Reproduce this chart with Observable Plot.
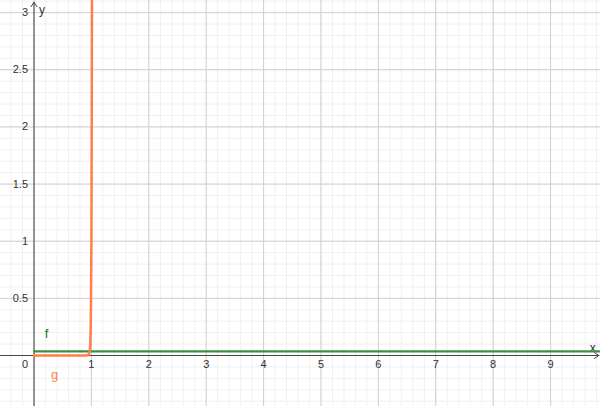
<!DOCTYPE html>
<html><head><meta charset="utf-8">
<script src="https://cdn.jsdelivr.net/npm/d3@7"></script>
<script src="https://cdn.jsdelivr.net/npm/@observablehq/plot@0.6"></script>
<style>
html,body{margin:0;padding:0;background:#fff;}
#chart svg{display:block;}
</style>
</head><body><div id="chart"></div>
<script>
// f: horizontal line
const fX = [0, 9.9];
const fY = [0.037, 0.037];
// g: near zero until x≈0.93, then shoots up near x=1
const gX = [0, 0.5, 0.9, 0.93, 0.95, 0.97, 0.98, 0.99, 1.0, 1.005, 1.01, 1.02];
const gY = [0, 0, 0, 0.002, 0.01, 0.04, 0.1, 0.35, 1.0, 1.9, 3.2, 4.0];
// tick labels
const xTicks = [1, 2, 3, 4, 5, 6, 7, 8, 9];
const xTickLabels = ["1", "2", "3", "4", "5", "6", "7", "8", "9"];
const yTicks = [0.5, 1, 1.5, 2, 2.5, 3];
const yTickLabels = ["0.5", "1", "1.5", "2", "2.5", "3"];

const xDom = [-0.584, 9.87];
const yDom = [-0.446, 3.106];

const fData = fX.map((x, i) => ({x, y: fY[i]}));
const gData = gX.map((x, i) => ({x, y: gY[i]}));
const xMajor = d3.range(0, 10, 1);
const yMajor = d3.range(-0.5, 3.2, 0.5).filter(v => v > -0.46);
const xMinor = d3.range(-0.4, 9.9, 0.2);
const yMinor = d3.range(-0.4, 3.15, 0.1);

const chart = Plot.plot({
  width: 600, height: 406,
  margin: 0,
  x: {domain: xDom, axis: null},
  y: {domain: yDom, axis: null},
  style: {fontFamily: "'Liberation Sans', Arial, sans-serif", background: "#fff"},
  marks: [
    Plot.ruleX(xMinor, {stroke: "#f0f0f0", strokeWidth: 1}),
    Plot.ruleY(yMinor, {stroke: "#f0f0f0", strokeWidth: 1}),
    Plot.ruleX(xMajor, {stroke: "#d0d0d0", strokeWidth: 1}),
    Plot.ruleY(yMajor, {stroke: "#d0d0d0", strokeWidth: 1}),
    Plot.arrow([{x1: xDom[0], x2: 9.84, y1: 0, y2: 0}], {x1: "x1", x2: "x2", y1: "y1", y2: "y2", stroke: "#444", strokeWidth: 1, headLength: 8, headAngle: 70}),
    Plot.arrow([{x1: 0, x2: 0, y1: yDom[0], y2: 3.09}], {x1: "x1", x2: "x2", y1: "y1", y2: "y2", stroke: "#444", strokeWidth: 1, headLength: 8, headAngle: 70}),
    Plot.text(xTicks, {x: d => d, y: 0, text: (d, i) => xTickLabels[i], dy: 9, fontSize: 11, fill: "#333"}),
    Plot.text(yTicks, {x: 0, y: d => d, text: (d, i) => yTickLabels[i], dx: -6, textAnchor: "end", fontSize: 11, fill: "#333"}),
    Plot.text([0], {x: 0, y: 0, text: () => "0", dx: -9, dy: 9, fontSize: 11, fill: "#333"}),
    Plot.text(["x"], {x: 9.84, y: 0, text: d => d, dx: -6, dy: -7, fontSize: 12, fill: "#333"}),
    Plot.text(["y"], {x: 0, y: 3.09, text: d => d, dx: 8, dy: 8, fontSize: 12, fill: "#333"}),
    Plot.line(fData, {x: "x", y: "y", stroke: "#3f8f3f", strokeWidth: 2.2, clip: true}),
    Plot.line(gData, {x: "x", y: "y", stroke: "#ff7f4a", strokeWidth: 2.5, clip: true, curve: "monotone-x"}),
    Plot.text(["f"], {x: 0.22, y: 0.19, text: d => d, fontSize: 13, fill: "#1a7a1a"}),
    Plot.text(["g"], {x: 0.36, y: -0.17, text: d => d, fontSize: 13, fill: "#ff7f4a"})
  ]
});
document.getElementById("chart").append(chart);
</script>
</body></html>
